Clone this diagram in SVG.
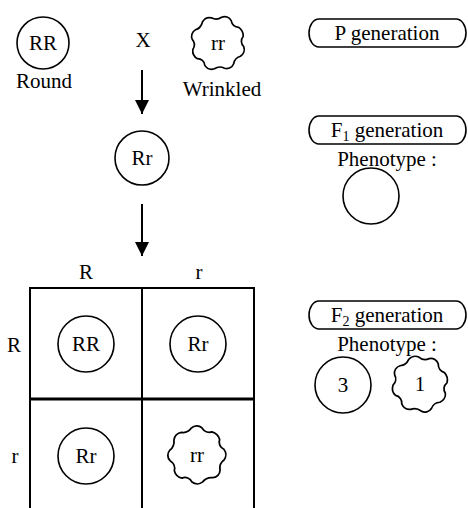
<svg xmlns="http://www.w3.org/2000/svg" xmlns:xlink="http://www.w3.org/1999/xlink" width="468" height="508" viewBox="0 0 468 508">
  <style>
    text { font-family: "Liberation Serif", "DejaVu Serif", "Noto Serif", Tinos, FreeSerif, "Nimbus Roman", "TeX Gyre Pagella", "Palatino Linotype", Palatino, "Times New Roman", Times, Georgia, serif; font-size: 21px; fill: #000; text-anchor: middle; }
    .seed { fill: none; stroke: #000; stroke-width: 1.6; }
    .wavy { fill: none; stroke: #000; stroke-width: 1.6; stroke-linejoin: round; }
    .grid { stroke: #000; stroke-width: 2; fill: none; }
    .grid-mid { stroke: #000; stroke-width: 3; }
    .pill { fill: none; stroke: #000; stroke-width: 1.6; }
    .arrow { stroke: #000; stroke-width: 2; }
    .sub { font-size: 14px; }
  </style>
  <defs>
    <!-- wrinkled seed outline: radius-25 ring of alternating outward/inward arcs -->
    <path id="wrinkle" d="M25,0
      A8,8 0 0 1 23.10,9.57 A9,9 0 0 0 17.68,17.68 A7,7 0 0 1 9.57,23.10 A10,10 0 0 0 0,25
      A8,8 0 0 1 -9.57,23.10 A7,7 0 0 0 -17.68,17.68 A9,9 0 0 1 -23.10,9.57 A8,8 0 0 0 -25,0
      A7,7 0 0 1 -23.10,-9.57 A10,10 0 0 0 -17.68,-17.68 A8,8 0 0 1 -9.57,-23.10 A9,9 0 0 0 0,-25
      A7,7 0 0 1 9.57,-23.10 A8,8 0 0 0 17.68,-17.68 A10,10 0 0 1 23.10,-9.57 A7,7 0 0 0 25,0 Z"/>
    <marker id="head" viewBox="0 0 10 10" refX="10" refY="5" markerWidth="7" markerHeight="7" markerUnits="strokeWidth" orient="auto">
      <path d="M0,0 L10,5 L0,10 Z" fill="#000"/>
    </marker>
  </defs>

  <!-- P generation: parents -->
  <g id="parent-round">
    <circle class="seed" cx="43" cy="43" r="26"/>
    <text x="43" y="50">RR</text>
    <text x="44" y="88">Round</text>
  </g>
  <g id="cross">
    <text x="143" y="47">X</text>
  </g>
  <g id="parent-wrinkled">
    <use xlink:href="#wrinkle" class="wavy" transform="translate(218,43) scale(1.04) rotate(8)"/>
    <text x="218" y="50">rr</text>
    <text x="222" y="96">Wrinkled</text>
  </g>

  <!-- F1 hybrid -->
  <g id="f1-hybrid">
    <circle class="seed" cx="142" cy="158" r="27"/>
    <text x="142" y="165">Rr</text>
  </g>

  <!-- Punnett square -->
  <g id="punnett">
    <text x="86" y="279">R</text>
    <text x="199" y="279">r</text>
    <text x="14" y="352">R</text>
    <text x="15" y="463">r</text>
    <path class="grid" d="M30,508 V288 H254 V508 M142,288 V508"/>
    <line class="grid-mid" x1="30" y1="399" x2="254" y2="399"/>
  </g>
  <g id="cell-RR">
    <circle class="seed" cx="86" cy="344" r="28"/>
    <text x="86" y="351">RR</text>
  </g>
  <g id="cell-Rr-top">
    <circle class="seed" cx="198" cy="344" r="28"/>
    <text x="198" y="351">Rr</text>
  </g>
  <g id="cell-Rr-bottom">
    <circle class="seed" cx="86" cy="456" r="28"/>
    <text x="86" y="463">Rr</text>
  </g>
  <g id="cell-rr">
    <use xlink:href="#wrinkle" class="wavy" transform="translate(197,455) scale(1.1) rotate(-12)"/>
    <text x="197" y="462">rr</text>
  </g>

  <!-- generation labels -->
  <g id="label-p">
    <rect class="pill" x="309" y="19" width="157" height="28" rx="10" ry="14"/>
    <text x="387" y="40">P generation</text>
  </g>
  <g id="label-f1">
    <rect class="pill" x="309" y="116" width="157" height="28" rx="10" ry="14"/>
    <text x="387" y="137">F<tspan class="sub" dy="4">1</tspan><tspan dy="-4"> generation</tspan></text>
    <text x="387" y="166">Phenotype :</text>
    <circle class="seed" cx="371" cy="196" r="28"/>
  </g>
  <g id="label-f2">
    <rect class="pill" x="309" y="301" width="157" height="28" rx="10" ry="14"/>
    <text x="387" y="322">F<tspan class="sub" dy="4">2</tspan><tspan dy="-4"> generation</tspan></text>
    <text x="387" y="351">Phenotype :</text>
    <circle class="seed" cx="343" cy="385" r="28"/>
    <text x="343" y="392">3</text>
    <use xlink:href="#wrinkle" class="wavy" transform="translate(420,384) scale(1.08) rotate(20)"/>
    <text x="420" y="391">1</text>
  </g>

  <!-- connectors -->
  <g id="connectors">
    <line class="arrow" x1="142" y1="70" x2="142" y2="114" marker-end="url(#head)"/>
    <line class="arrow" x1="142" y1="204" x2="142" y2="256" marker-end="url(#head)"/>
  </g>
</svg>
